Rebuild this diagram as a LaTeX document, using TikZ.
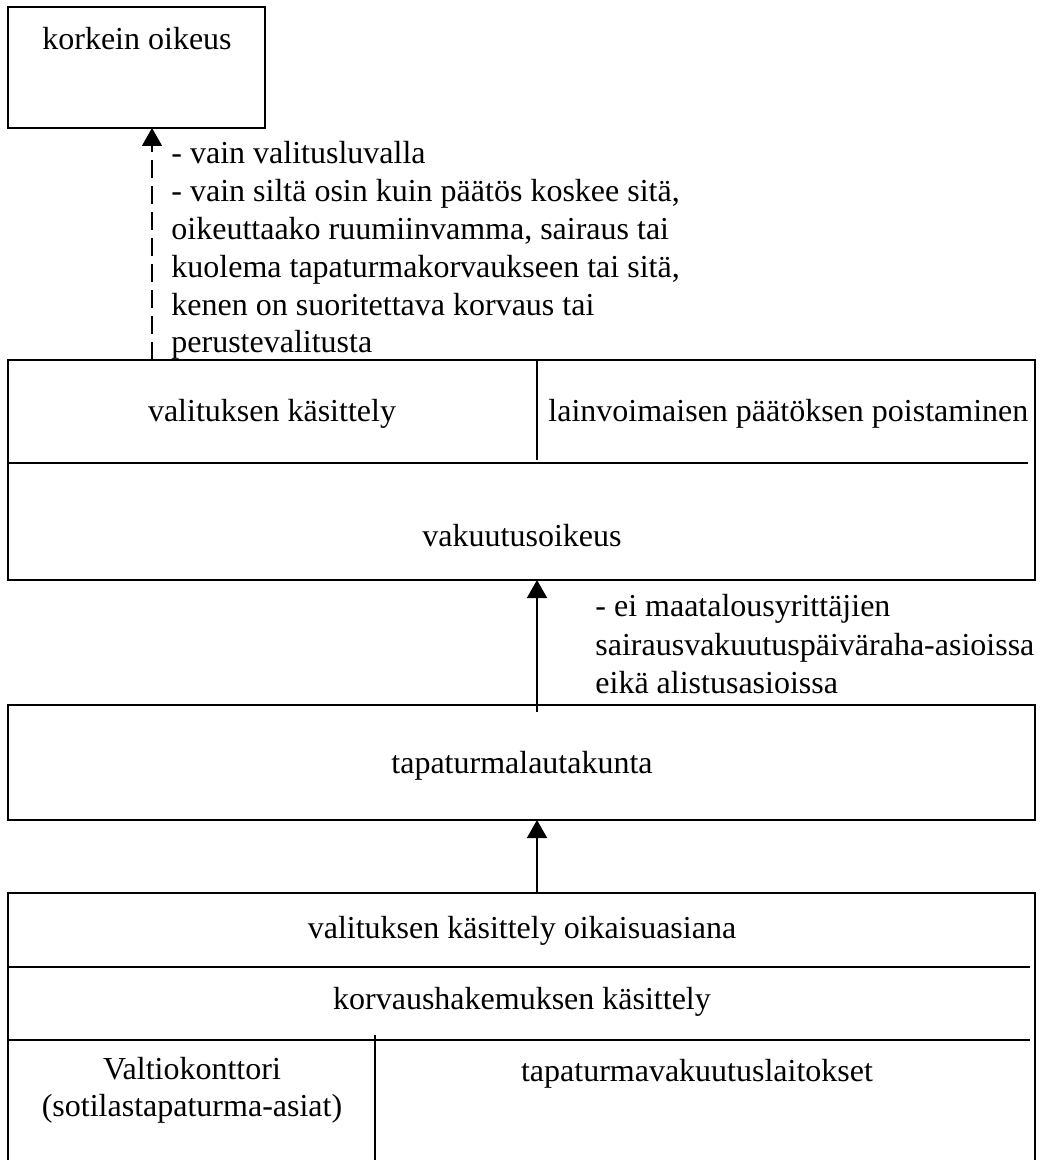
\documentclass[tikz,border=0pt]{standalone}
\usepackage{fontspec}
\setmainfont{Liberation Serif}
\usetikzlibrary{arrows.meta}
\begin{document}
\begin{tikzpicture}[x=0.5pt,y=-0.5pt,
  box/.style={draw,line width=1pt,inner sep=0pt,outer sep=0pt,rectangle},
  divider/.style={line width=0.9pt},
  txt/.style={inner sep=0pt,anchor=base,font=\fontsize{16}{19.2}\selectfont},
  note/.style={inner sep=0pt,anchor=base west,font=\fontsize{16}{19.2}\selectfont},
  up/.style={line width=0.8pt,-{Triangle[width=10pt,length=9pt]}},
]
\useasboundingbox[fill=white] (0,0) rectangle (1039,1160);

% --- korkein oikeus
\node[box,minimum width=128.5pt,minimum height=60.5pt] (ko) at (136.5,67.5) {};
\node[txt] (kot) at (137,50) {korkein oikeus};

% --- vakuutusoikeus
\node[box,minimum width=513.5pt,minimum height=110pt] (vo) at (521.5,470) {};
\draw[divider] (8,463) -- (1028,463);
\draw[divider] (537,360) -- (537,460);
\node[txt] (vo1) at (272,421) {valituksen käsittely};
\node[note] (vo2) at (548,421) {lainvoimaisen päätöksen poistaminen};
\node[txt] (vot) at (522,546) {vakuutusoikeus};

% --- tapaturmalautakunta
\node[box,minimum width=513.5pt,minimum height=57.5pt] (tl) at (521.5,762.5) {};
\node[txt] (tlt) at (522,773) {tapaturmalautakunta};

% --- first instance (open at the bottom edge)
\node[box,minimum width=513.5pt,minimum height=140pt] (ei) at (521.5,1033) {};
\draw[divider] (8,967) -- (1030,967);
\draw[divider] (8,1040) -- (1030,1040);
\draw[divider] (375,1035) -- (375,1170);
\node[txt] (ei1) at (522,938) {valituksen käsittely oikaisuasiana};
\node[txt] (ei2) at (522,1009) {korvaushakemuksen käsittely};
\node[txt] (ei3) at (192,1079) {Valtiokonttori};
\node[txt] (ei4) at (192,1116) {(sotilastapaturma-asiat)};
\node[txt] (ei5) at (697,1081) {tapaturmavakuutuslaitokset};

% --- connectors
\coordinate (d1) at (152,360);
\draw[up,dash pattern=on 9pt off 4pt] (d1) -- (ko.south -| d1);
\coordinate (d2) at (537,712);
\draw[up] (d2) -- (vo.south -| d2);
\coordinate (d3) at (537,893);
\draw[up] (d3) -- (tl.south -| d3);

% --- conditions
\node[note] (n1) at (171,164) {- vain valitusluvalla};
\node[note] (n2) at (171,202) {- vain siltä osin kuin päätös koskee sitä,};
\node[note] (n3) at (171,240) {oikeuttaako ruumiinvamma, sairaus tai};
\node[note] (n4) at (171,278) {kuolema tapaturmakorvaukseen tai sitä,};
\node[note] (n5) at (171,315) {kenen on suoritettava korvaus tai};
\node[note] (n6) at (171,352) {perustevalitusta};
\node[note] (m1) at (595,616) {- ei maatalousyrittäjien};
\node[note] (m2) at (595,655) {sairausvakuutuspäiväraha-asioissa};
\node[note] (m3) at (595,693) {eikä alistusasioissa};
\end{tikzpicture}
\end{document}
